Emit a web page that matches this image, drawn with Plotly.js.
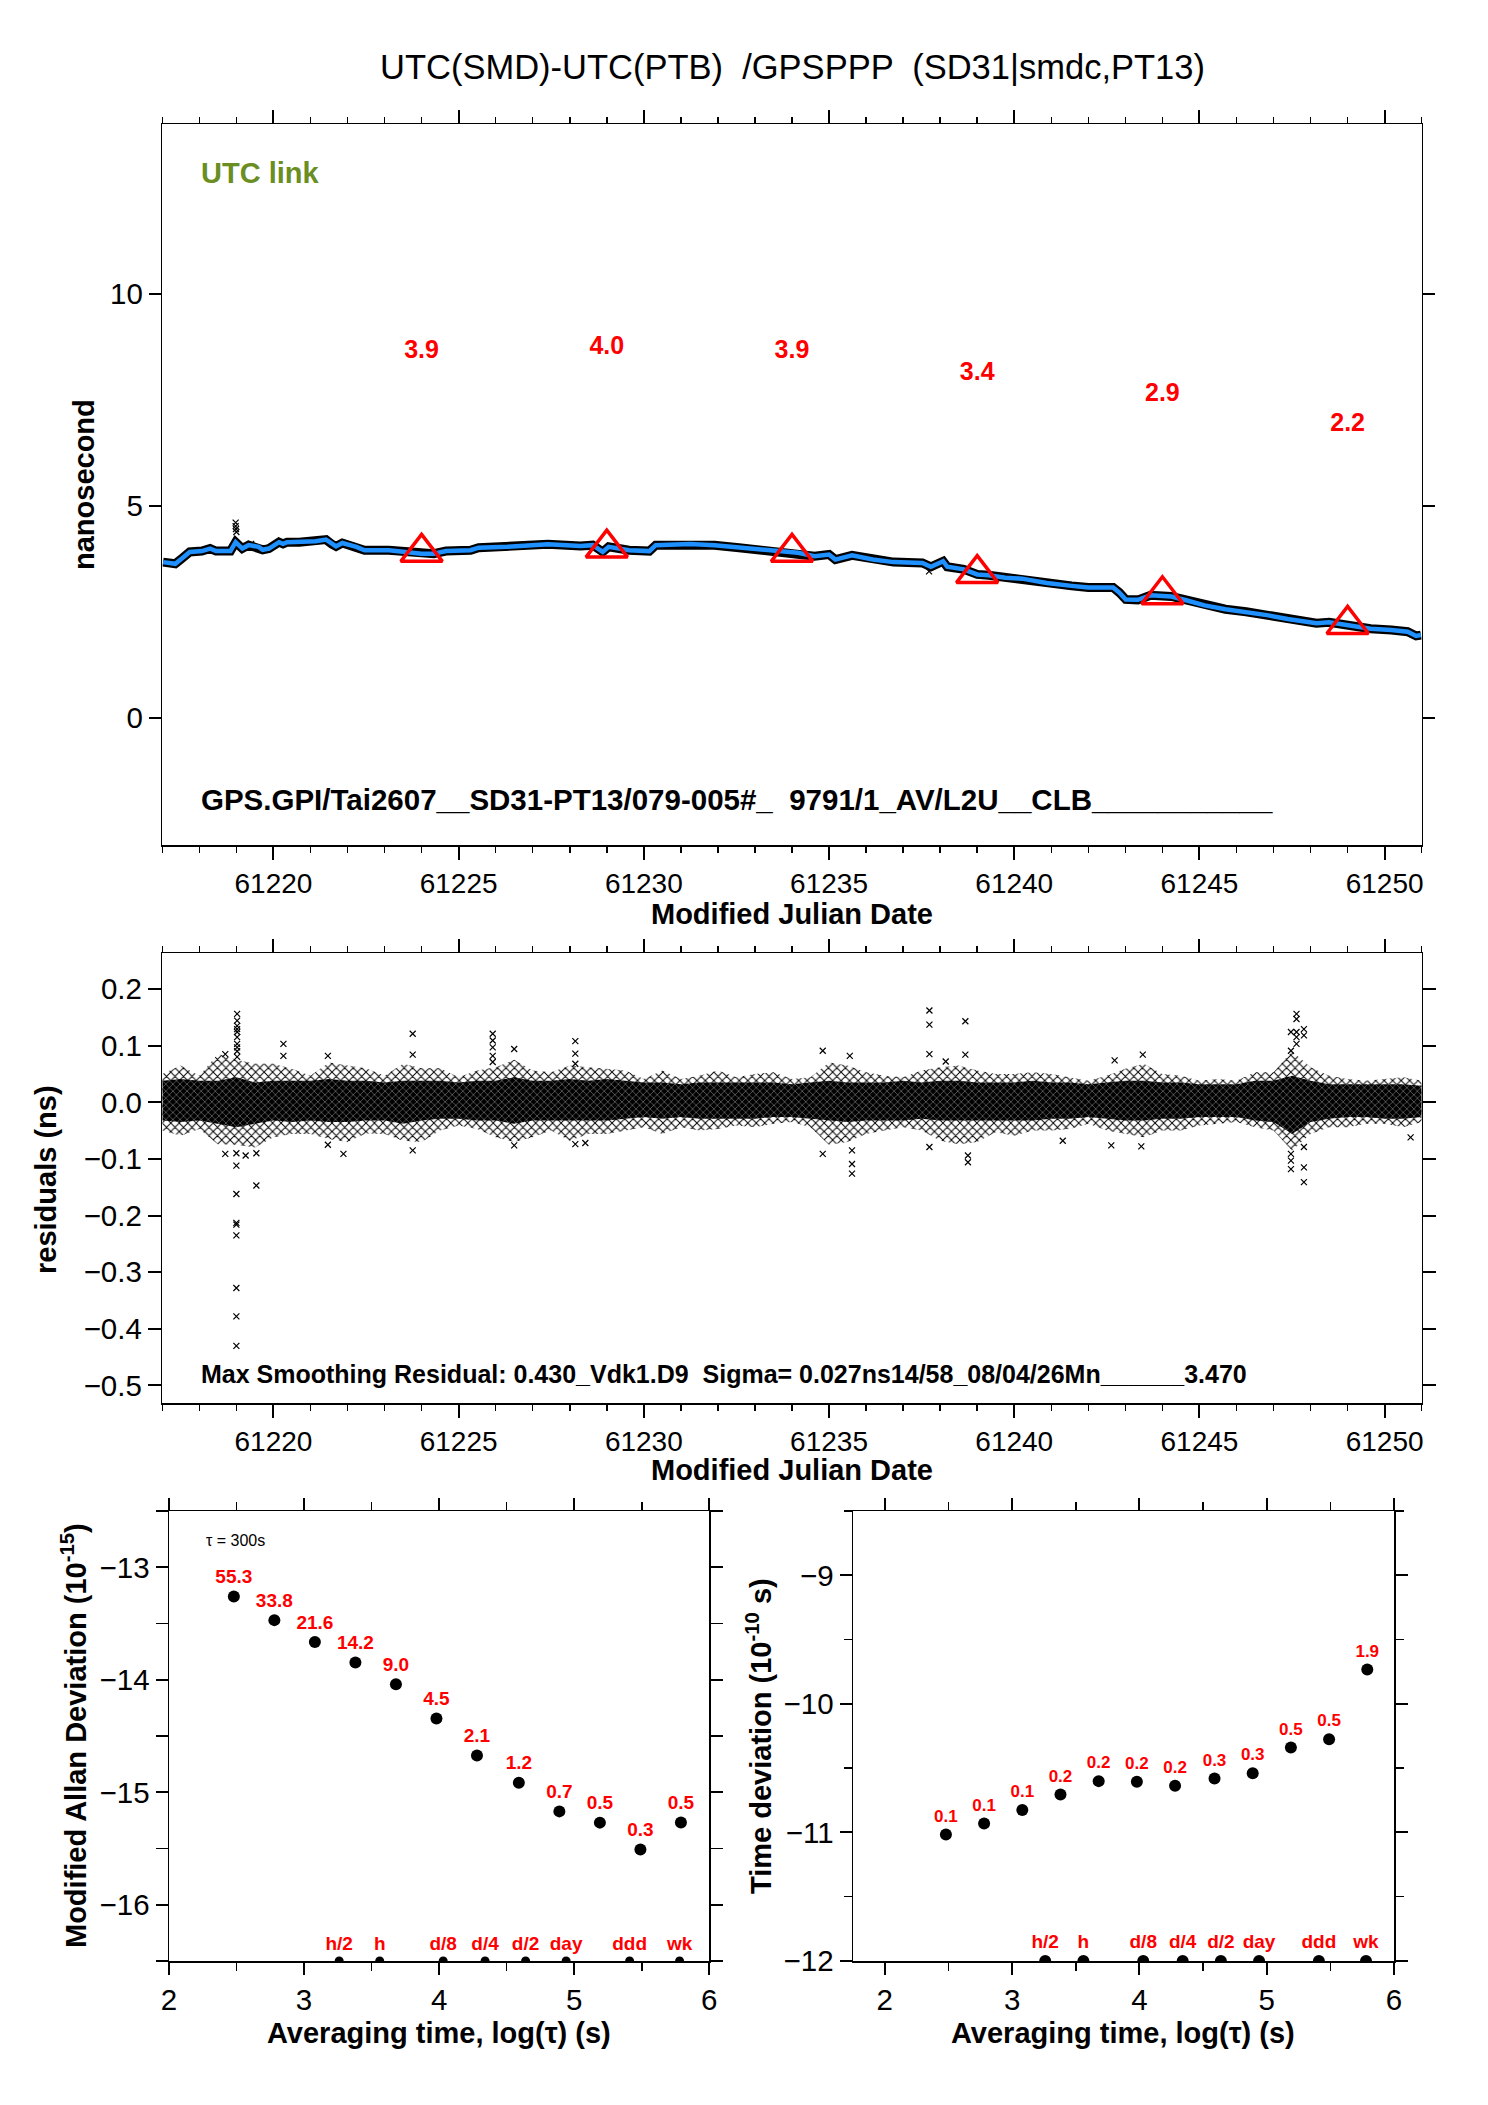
<!DOCTYPE html>
<html>
<head>
<meta charset="utf-8">
<script src="https://cdn.plot.ly/plotly-3.0.1.min.js"></script>
<style>
  html, body { margin: 0; padding: 0; background: #fff; }
  #plot { width: 1488px; height: 2105px; }
</style>
</head>
<body>
<div id="plot"></div>
<script>
// ---------- TOP PANEL - UTC link (ns)
const mjdSmooth = [61217.02, 61217.35, 61217.52, 61217.74, 61218.07, 61218.29, 61218.45, 61218.84, 61218.98, 61219.16,
  61219.33, 61219.60, 61219.71, 61219.88, 61220.15, 61220.26, 61220.37, 61220.70, 61221.14, 61221.42,
  61221.58, 61221.69, 61221.86, 61222.24, 61222.46, 61223.12, 61223.56, 61224.00, 61224.33, 61224.66,
  61225.32, 61225.54, 61226.31, 61227.41, 61228.29, 61228.62, 61228.89, 61229.05, 61229.60, 61230.15,
  61230.32, 61231.25, 61231.91, 61232.57, 61233.45, 61234.16, 61234.61, 61235.00, 61235.17, 61235.62,
  61236.18, 61236.74, 61237.52, 61237.75, 61238.08, 61238.19, 61238.64, 61239.00, 61239.31, 61239.76,
  61240.21, 61240.88, 61241.55, 61242.00, 61242.67, 61242.84, 61243.01, 61243.34, 61243.68, 61244.24,
  61244.69, 61245.14, 61245.70, 61246.26, 61246.82, 61247.38, 61247.82, 61248.16, 61248.50, 61249.00,
  61249.62, 61250.18, 61250.62, 61250.85, 61250.98];
const nsSmooth = [3.67, 3.63, 3.75, 3.91, 3.93, 3.99, 3.93, 3.93, 4.14, 3.99,
  4.07, 4.03, 3.96, 3.99, 4.14, 4.10, 4.14, 4.14, 4.16, 4.20,
  4.09, 4.04, 4.12, 4.03, 3.95, 3.95, 3.91, 3.87, 3.87, 3.93,
  3.95, 4.01, 4.03, 4.09, 4.05, 4.07, 3.91, 4.03, 3.95, 3.93,
  4.07, 4.10, 4.07, 4.01, 3.93, 3.89, 3.81, 3.85, 3.73, 3.83,
  3.73, 3.67, 3.65, 3.56, 3.69, 3.56, 3.50, 3.38, 3.36, 3.30,
  3.28, 3.18, 3.11, 3.07, 3.07, 2.95, 2.79, 2.78, 2.89, 2.86,
  2.76, 2.65, 2.56, 2.50, 2.42, 2.33, 2.27, 2.23, 2.25, 2.18,
  2.10, 2.07, 2.03, 1.93, 1.95];
const rawOutMjd = [61218.98, 61218.98, 61218.99, 61219.00, 61219.40, 61237.70];
const rawOutNs = [4.60, 4.52, 4.45, 4.38, 4.10, 3.45];
const triMjd = [61224, 61229, 61234, 61239, 61244, 61249];
const triNs = [3.9, 4.0, 3.9, 3.4, 2.9, 2.2];
const triLabels = ['3.9', '4.0', '3.9', '3.4', '2.9', '2.2'];

// ---------- MIDDLE PANEL - residuals (ns), envelopes every half day
const residMjd = [61217.0, 61217.5, 61218.0, 61218.5, 61219.0, 61219.5, 61220.0, 61220.5, 61221.0, 61221.5,
  61222.0, 61222.5, 61223.0, 61223.5, 61224.0, 61224.5, 61225.0, 61225.5, 61226.0, 61226.5,
  61227.0, 61227.5, 61228.0, 61228.5, 61229.0, 61229.5, 61230.0, 61230.5, 61231.0, 61231.5,
  61232.0, 61232.5, 61233.0, 61233.5, 61234.0, 61234.5, 61235.0, 61235.5, 61236.0, 61236.5,
  61237.0, 61237.5, 61238.0, 61238.5, 61239.0, 61239.5, 61240.0, 61240.5, 61241.0, 61241.5,
  61242.0, 61242.5, 61243.0, 61243.5, 61244.0, 61244.5, 61245.0, 61245.5, 61246.0, 61246.5,
  61247.0, 61247.5, 61248.0, 61248.5, 61249.0, 61249.5, 61250.0, 61250.5, 61251.0];
const coreUp = [0.038, 0.041, 0.038, 0.038, 0.044, 0.035, 0.038, 0.038, 0.038, 0.041,
  0.038, 0.038, 0.035, 0.038, 0.038, 0.038, 0.035, 0.038, 0.038, 0.044,
  0.038, 0.038, 0.041, 0.038, 0.041, 0.038, 0.035, 0.035, 0.032, 0.035,
  0.035, 0.035, 0.035, 0.035, 0.032, 0.035, 0.038, 0.035, 0.035, 0.035,
  0.038, 0.035, 0.038, 0.038, 0.035, 0.035, 0.035, 0.038, 0.035, 0.035,
  0.032, 0.035, 0.038, 0.038, 0.035, 0.035, 0.032, 0.032, 0.032, 0.038,
  0.038, 0.047, 0.038, 0.032, 0.032, 0.032, 0.032, 0.032, 0.029];
const coreLow = [-0.032, -0.035, -0.032, -0.038, -0.044, -0.038, -0.032, -0.035, -0.032, -0.035,
  -0.035, -0.032, -0.032, -0.038, -0.032, -0.029, -0.029, -0.032, -0.032, -0.038,
  -0.032, -0.032, -0.032, -0.032, -0.032, -0.029, -0.026, -0.029, -0.026, -0.029,
  -0.029, -0.029, -0.029, -0.026, -0.026, -0.029, -0.032, -0.035, -0.032, -0.032,
  -0.032, -0.029, -0.032, -0.032, -0.032, -0.032, -0.032, -0.032, -0.029, -0.029,
  -0.026, -0.029, -0.032, -0.032, -0.029, -0.029, -0.026, -0.026, -0.026, -0.032,
  -0.035, -0.056, -0.035, -0.029, -0.026, -0.026, -0.029, -0.029, -0.026];
const outerUp = [0.050, 0.065, 0.047, 0.085, 0.075, 0.068, 0.068, 0.059, 0.047, 0.070,
  0.065, 0.060, 0.047, 0.068, 0.060, 0.060, 0.044, 0.056, 0.062, 0.075,
  0.056, 0.053, 0.065, 0.062, 0.059, 0.056, 0.041, 0.056, 0.041, 0.047,
  0.056, 0.044, 0.050, 0.053, 0.041, 0.044, 0.070, 0.065, 0.053, 0.047,
  0.044, 0.056, 0.062, 0.065, 0.056, 0.050, 0.050, 0.053, 0.050, 0.044,
  0.038, 0.047, 0.059, 0.068, 0.050, 0.047, 0.038, 0.041, 0.038, 0.053,
  0.053, 0.090, 0.062, 0.047, 0.041, 0.038, 0.041, 0.044, 0.038];
const outerLow = [-0.050, -0.059, -0.047, -0.074, -0.075, -0.080, -0.062, -0.056, -0.056, -0.065,
  -0.070, -0.055, -0.056, -0.068, -0.070, -0.050, -0.041, -0.047, -0.062, -0.070,
  -0.062, -0.050, -0.068, -0.056, -0.056, -0.050, -0.044, -0.056, -0.044, -0.050,
  -0.047, -0.041, -0.044, -0.038, -0.035, -0.044, -0.075, -0.070, -0.056, -0.050,
  -0.044, -0.050, -0.068, -0.074, -0.070, -0.053, -0.059, -0.050, -0.050, -0.047,
  -0.038, -0.050, -0.056, -0.062, -0.050, -0.050, -0.041, -0.038, -0.035, -0.044,
  -0.050, -0.085, -0.056, -0.044, -0.044, -0.038, -0.038, -0.044, -0.035];
const residOutMjd = [61219.02, 61219.02, 61219.02, 61219.02, 61219.02, 61219.02, 61219.02, 61219.02, 61219.02, 61219.02,
  61219.00, 61219.00, 61219.00, 61219.00, 61219.00, 61219.00, 61219.00, 61219.00, 61219.00,
  61219.54, 61219.54, 61218.70, 61218.70, 61219.25,
  61220.27, 61220.27, 61221.47, 61221.47, 61221.89,
  61223.76, 61223.76, 61223.76,
  61225.92, 61225.92, 61225.92, 61225.92, 61225.92,
  61226.50, 61226.50, 61228.15, 61228.15, 61228.15, 61228.15, 61228.42,
  61234.83, 61234.83, 61235.56, 61235.62, 61235.62, 61235.62,
  61237.71, 61237.71, 61237.71, 61237.71, 61238.15, 61238.68, 61238.68, 61238.75, 61238.75,
  61241.31, 61242.62, 61242.71, 61243.43, 61243.47,
  61247.47, 61247.47, 61247.47, 61247.47, 61247.47,
  61247.62, 61247.62, 61247.62, 61247.62, 61247.62,
  61247.82, 61247.82, 61247.82, 61247.82, 61247.82, 61250.70];
const residOutNs = [0.156, 0.144, 0.135, 0.129, 0.124, 0.115, 0.103, 0.097, 0.090, 0.080,
  -0.112, -0.162, -0.213, -0.216, -0.235, -0.328, -0.378, -0.430, -0.090,
  -0.147, -0.090, 0.085, -0.091, -0.094,
  0.103, 0.082, 0.082, -0.075, -0.091,
  0.121, 0.084, -0.085,
  0.121, 0.109, 0.097, 0.082, 0.071,
  0.094, -0.076, 0.108, 0.086, 0.068, -0.074, -0.072,
  0.091, -0.091, 0.082, -0.085, -0.109, -0.126,
  0.162, 0.137, 0.085, -0.079, 0.072, 0.143, 0.084, -0.094, -0.106,
  -0.068, -0.076, 0.074, -0.078, 0.084,
  0.124, 0.091, -0.091, -0.103, -0.118,
  0.156, 0.147, 0.124, 0.115, 0.103,
  0.129, 0.118, -0.079, -0.115, -0.141, -0.062];

// ---------- BOTTOM PANELS - stability
const logTau = [2.48, 2.78, 3.08, 3.38, 3.68, 3.98, 4.28, 4.59, 4.89, 5.19, 5.49, 5.79];
const modAdevLog = [-13.26, -13.47, -13.665, -13.847, -14.04, -14.344, -14.674, -14.915, -15.17, -15.27, -15.509, -15.268];
const modAdevLabels = ['55.3', '33.8', '21.6', '14.2', '9.0', '4.5', '2.1', '1.2', '0.7', '0.5', '0.3', '0.5'];
const tdevLog = [-11.016, -10.93, -10.826, -10.705, -10.601, -10.606, -10.637, -10.58, -10.539, -10.339, -10.275, -9.733];
const tdevLabels = ['0.1', '0.1', '0.1', '0.2', '0.2', '0.2', '0.2', '0.3', '0.3', '0.5', '0.5', '1.9'];
const markLog = [3.26, 3.56, 4.03, 4.34, 4.64, 4.94, 5.41, 5.78];
const markNames = ['h/2', 'h', 'd/8', 'd/4', 'd/2', 'day', 'ddd', 'wk'];

// ---------- STYLE
const W = 1488, H = 2105;
const F = 'Liberation Sans, Arial, Helvetica, sans-serif';
const RED = '#ff0000';
const px = v => v / W;
const py = v => 1 - v / H;
const ADEV_RANGE = [-16.5, -12.5];
const TDEV_RANGE = [-12, -8.5];
const LABEL_DY = 4.72;

function axis(extra) {
  return Object.assign({
    showline: true, linecolor: '#000', linewidth: 1.5, mirror: 'ticks',
    ticks: 'outside', tickcolor: '#000', tickwidth: 2, ticklen: 12,
    showgrid: false, zeroline: false,
    tickfont: { family: F, size: 29.5, color: '#000' }
  }, extra);
}
const xTickFont = { family: F, size: 28, color: '#000' };
function minor(d, len) {
  return { ticks: 'outside', dtick: d, ticklen: len, tickwidth: 1.5, tickcolor: '#000', showgrid: false };
}
const xMark = { symbol: 'x-thin-open', size: 6, color: '#000', line: { color: '#000', width: 1.2 } };

const traces = [
  // top
  { x: mjdSmooth, y: nsSmooth, xaxis: 'x', yaxis: 'y', mode: 'lines', line: { color: '#000', width: 9 } },
  { x: rawOutMjd, y: rawOutNs, xaxis: 'x', yaxis: 'y', mode: 'markers', marker: xMark },
  { x: mjdSmooth, y: nsSmooth, xaxis: 'x', yaxis: 'y', mode: 'lines', line: { color: '#1e90ff', width: 4.5 } },
  { x: triMjd, y: triNs, xaxis: 'x', yaxis: 'y', mode: 'markers',
    marker: { symbol: 'triangle-up-open', size: 36, color: RED, line: { color: RED, width: 3.5 } } },
  { x: triMjd, y: triNs.map(v => v + LABEL_DY), xaxis: 'x', yaxis: 'y', mode: 'text', text: triLabels,
    textfont: { family: F, size: 25, color: RED, weight: 'bold' } },

  // middle
  { x: residMjd, y: outerUp, xaxis: 'x2', yaxis: 'y2', mode: 'lines', line: { width: 0 } },
  { x: residMjd, y: outerLow, xaxis: 'x2', yaxis: 'y2', mode: 'lines', line: { width: 0 }, fill: 'tonexty',
    fillpattern: { shape: 'x', fgcolor: '#000', bgcolor: '#fff', size: 6, solidity: 0.3 } },
  { x: residMjd, y: coreUp, xaxis: 'x2', yaxis: 'y2', mode: 'lines', line: { width: 0 } },
  { x: residMjd, y: coreLow, xaxis: 'x2', yaxis: 'y2', mode: 'lines', line: { width: 0 }, fill: 'tonexty',
    fillpattern: { shape: 'x', fgcolor: '#fff', bgcolor: '#000', size: 5, solidity: 0.12 } },
  { x: residOutMjd, y: residOutNs, xaxis: 'x2', yaxis: 'y2', mode: 'markers', marker: xMark },

  // bottom left
  { x: logTau, y: modAdevLog, xaxis: 'x3', yaxis: 'y3', mode: 'markers+text', text: modAdevLabels,
    textposition: 'top center', textfont: { family: F, size: 19, color: RED, weight: 'bold' },
    marker: { symbol: 'circle', size: 12, color: '#000' } },
  { x: markLog, y: markLog.map(() => ADEV_RANGE[0]), xaxis: 'x3', yaxis: 'y3', mode: 'markers+text', text: markNames,
    textposition: 'top center', textfont: { family: F, size: 19, color: RED, weight: 'bold' },
    marker: { symbol: 'circle', size: 9, color: '#000' } },

  // bottom right
  { x: logTau, y: tdevLog, xaxis: 'x4', yaxis: 'y4', mode: 'markers+text', text: tdevLabels,
    textposition: 'top center', textfont: { family: F, size: 17, color: RED, weight: 'bold' },
    marker: { symbol: 'circle', size: 12, color: '#000' } },
  { x: markLog, y: markLog.map(() => TDEV_RANGE[0]), xaxis: 'x4', yaxis: 'y4', mode: 'markers+text', text: markNames,
    textposition: 'top center', textfont: { family: F, size: 19, color: RED, weight: 'bold' },
    marker: { symbol: 'circle', size: 12, color: '#000' } }
];

function note(text, x, y, opts) {
  return Object.assign({
    text: text, xref: 'paper', yref: 'paper', x: px(x), y: py(y),
    xanchor: 'center', yanchor: 'middle', showarrow: false,
    font: { family: F, size: 29, color: '#000', weight: 'bold' }
  }, opts || {});
}

const layout = {
  width: W, height: H,
  margin: { l: 0, r: 0, t: 0, b: 0 },
  paper_bgcolor: '#fff', plot_bgcolor: '#fff',
  showlegend: false,
  xaxis: axis({ domain: [px(162.3), px(1421.7)], anchor: 'y', range: [61217, 61251], tick0: 61220, dtick: 5,
    tickformat: 'd', ticklen: 13, tickfont: xTickFont, minor: minor(1, 6) }),
  yaxis: axis({ domain: [py(845), py(124)], anchor: 'x', range: [-3, 14], tick0: 0, dtick: 5 }),
  xaxis2: axis({ domain: [px(162.3), px(1421.7)], anchor: 'y2', range: [61217, 61251], tick0: 61220, dtick: 5,
    tickformat: 'd', ticklen: 13, tickfont: xTickFont, minor: minor(1, 6) }),
  yaxis2: axis({ domain: [py(1403), py(953.3)], anchor: 'x2', range: [-0.531, 0.263], tick0: 0, dtick: 0.1,
    tickformat: '.1f', ticklen: 13 }),
  xaxis3: axis({ domain: [px(169), px(709.3)], anchor: 'y3', range: [2, 6], dtick: 1, minor: minor(0.5, 8) }),
  yaxis3: axis({ domain: [py(1961), py(1511)], anchor: 'x3', range: ADEV_RANGE, dtick: 1, minor: minor(0.5, 12) }),
  xaxis4: axis({ domain: [px(853), px(1394)], anchor: 'y4', range: [1.75, 6], tick0: 2, dtick: 1, minor: minor(0.5, 8) }),
  yaxis4: axis({ domain: [py(1961), py(1511)], anchor: 'x4', range: TDEV_RANGE, dtick: 1, minor: minor(0.5, 8) }),
  annotations: [
    note('UTC(SMD)-UTC(PTB)  /GPSPPP  (SD31|smdc,PT13)', 792, 66.7,
      { font: { family: F, size: 34.5, color: '#000' } }),
    note('UTC link', 199, 173, { xanchor: 'left', font: { family: F, size: 29, color: '#6b8e23', weight: 'bold' } }),
    note('GPS.GPI/Tai2607__SD31-PT13/079-005#_  9791/1_AV/L2U__CLB___________', 199, 800,
      { xanchor: 'left', font: { family: F, size: 29.5, color: '#000', weight: 'bold' } }),
    note('Max Smoothing Residual: 0.430_Vdk1.D9  Sigma= 0.027ns14/58_08/04/26Mn______3.470', 199, 1374,
      { xanchor: 'left', font: { family: F, size: 25, color: '#000', weight: 'bold' } }),
    { text: 'τ = 300s', xref: 'x3', yref: 'y3', x: 2.26, y: -12.765, xanchor: 'left', yanchor: 'middle',
      showarrow: false, font: { family: F, size: 16, color: '#000' } },
    note('Modified Julian Date', 792, 914),
    note('nanosecond', 84, 485, { textangle: -90 }),
    note('Modified Julian Date', 792, 1470),
    note('residuals (ns)', 46, 1180, { textangle: -90 }),
    note('Modified Allan Deviation (10<sup>-15</sup>)', 74, 1736, { textangle: -90 }),
    note('Time deviation (10<sup>-10</sup> s)', 759, 1736, { textangle: -90 }),
    note('Averaging time, log(τ) (s)', 439, 2033),
    note('Averaging time, log(τ) (s)', 1123, 2033)
  ]
};

Plotly.newPlot('plot', traces, layout, { staticPlot: true, displayModeBar: false });
</script>
</body>
</html>
